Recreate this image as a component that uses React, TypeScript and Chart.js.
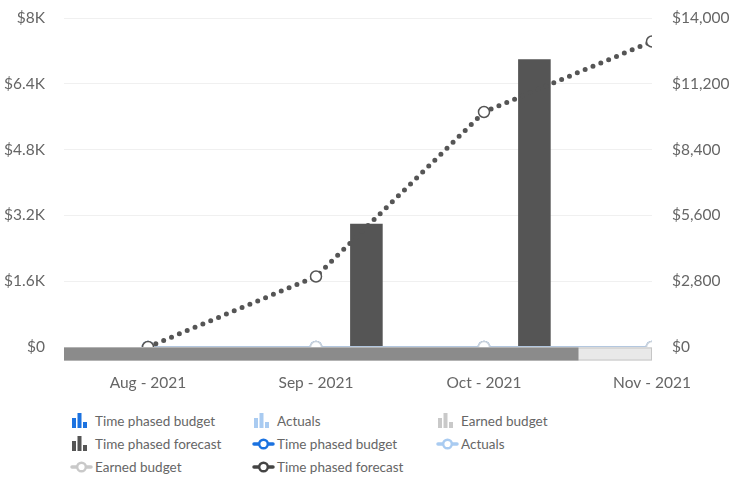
import React, { useEffect, useRef } from 'react';
import { Chart, registerables } from 'chart.js';

Chart.register(...registerables);

// ---- data ----
const categories = ['Aug - 2021', 'Sep - 2021', 'Oct - 2021', 'Nov - 2021'];
const budgetBars = [0, 0, 0, 0];
const actualBars = [0, 0, 0, 0];
const earnedBars = [0, 0, 0, 0];
const forecastBars = [0, 3000, 7000, 3000];
const budgetLine = [0, 0, 0, 0];
const actualLine = [0, 0, 0, 0];
const earnedLine = [0, 0, 0, 0];
const forecastLine = [0, 3000, 10000, 13000];
const leftTicks = [0, 1600, 3200, 4800, 6400, 8000];
const rightTicks = [0, 2800, 5600, 8400, 11200, 14000];
const scrollVisibleFraction = 0.875;

const FONT = 'Lato, "Open Sans", sans-serif';
const BLUE = '#1b72e0';
const LIGHT_BLUE = '#a9cbf1';
const LIGHT_GRAY = '#c9c9c9';
const DARK = '#555555';

const fmtLeft = (v: number) => (v === 0 ? '$0' : '$' + (v / 1000) + 'K');
const fmtRight = (v: number) => '$' + v.toLocaleString('en-US');
const xy = (arr: number[]) => arr.map((v, i) => ({ x: i, y: v }));

const scrollbarPlugin = {
  id: 'scrollbar',
  afterDatasetsDraw(chart: any) {
    const { ctx, chartArea } = chart;
    const top = chartArea.bottom + 0.5;
    const h = 13;
    const w = chartArea.right - chartArea.left;
    const thumbW = w * scrollVisibleFraction;
    ctx.save();
    ctx.fillStyle = '#e9e9e9';
    ctx.fillRect(chartArea.left, top, w, h);
    ctx.strokeStyle = '#c6c6c6';
    ctx.lineWidth = 1;
    ctx.strokeRect(chartArea.left + 0.5, top + 0.5, w - 1, h - 1);
    ctx.fillStyle = '#8b8b8b';
    ctx.fillRect(chartArea.left, top, thumbW, h);
    ctx.restore();
  },
};

const BarIcon = ({ color }: { color: string }) => (
  <svg width="16" height="15" style={{ display: 'block' }}>
    <rect x="0" y="5" width="4" height="10" fill={color} />
    <rect x="5.5" y="0" width="4" height="15" fill={color} />
    <rect x="11" y="9" width="4" height="6" fill={color} />
  </svg>
);

const LineIcon = ({ color }: { color: string }) => (
  <svg width="23" height="12" style={{ display: 'block' }}>
    <line x1="2" y1="6" x2="21" y2="6" stroke={color} strokeWidth="3.5" strokeLinecap="round" />
    <circle cx="11.5" cy="6" r="4.3" fill="#fff" stroke={color} strokeWidth="2.4" />
  </svg>
);

const legendItems: { label: string; kind: 'bar' | 'line'; color: string }[] = [
  { label: 'Time phased budget', kind: 'bar', color: BLUE },
  { label: 'Actuals', kind: 'bar', color: LIGHT_BLUE },
  { label: 'Earned budget', kind: 'bar', color: LIGHT_GRAY },
  { label: 'Time phased forecast', kind: 'bar', color: DARK },
  { label: 'Time phased budget', kind: 'line', color: BLUE },
  { label: 'Actuals', kind: 'line', color: LIGHT_BLUE },
  { label: 'Earned budget', kind: 'line', color: LIGHT_GRAY },
  { label: 'Time phased forecast', kind: 'line', color: '#444444' },
];

export default function App() {
  const ref = useRef<HTMLCanvasElement>(null);

  useEffect(() => {
    const tickFont = { family: FONT, size: 15.5 };
    const barCommon = {
      type: 'bar' as const,
      xAxisID: 'x',
      yAxisID: 'y',
      order: 10,
      barPercentage: 0.97,
      categoryPercentage: 0.8,
      clip: 0,
    };
    const lineCommon = {
      type: 'line' as const,
      xAxisID: 'x',
      yAxisID: 'y1',
      clip: 0,
      tension: 0,
      pointRadius: 5.5,
      pointHoverRadius: 5.5,
      pointBackgroundColor: '#ffffff',
      pointBorderWidth: 1.5,
      fill: false,
    };
    const chart = new Chart(ref.current!, {
      type: 'bar',
      data: {
        datasets: [
          { ...lineCommon, label: 'Time phased forecast', data: xy(forecastLine), borderColor: DARK, borderWidth: 5, borderDash: [0, 8.5], borderCapStyle: 'round', pointBorderColor: DARK, order: 0 },
          { ...lineCommon, label: 'Actuals', data: xy(actualLine), borderColor: '#b3c7df', borderWidth: 2, pointBorderColor: '#c9d2dc', order: 1 },
          { ...lineCommon, label: 'Earned budget', data: xy(earnedLine), borderColor: LIGHT_GRAY, borderWidth: 2, pointBorderColor: LIGHT_GRAY, order: 2 },
          { ...lineCommon, label: 'Time phased budget', data: xy(budgetLine), borderColor: BLUE, borderWidth: 2, pointBorderColor: BLUE, order: 3 },
          { ...barCommon, label: 'Time phased budget', data: xy(budgetBars), backgroundColor: BLUE },
          { ...barCommon, label: 'Actuals', data: xy(actualBars), backgroundColor: LIGHT_BLUE },
          { ...barCommon, label: 'Earned budget', data: xy(earnedBars), backgroundColor: LIGHT_GRAY },
          { ...barCommon, label: 'Time phased forecast', data: xy(forecastBars), backgroundColor: DARK },
        ] as any,
      },
      options: {
        responsive: false,
        animation: false,
        events: [],
        layout: { padding: { top: 18, left: 0, right: 0, bottom: 0 } },
        plugins: { legend: { display: false }, tooltip: { enabled: false } },
        scales: {
          x: {
            type: 'linear',
            min: -0.5,
            max: 3,
            offset: false,
            afterBuildTicks: (s: any) => {
              s.ticks = categories.map((_, i) => ({ value: i }));
            },
            afterFit: (s: any) => {
              s.height = 53;
            },
            ticks: {
              callback: (v: any) => categories[v] ?? '',
              padding: 27,
              font: tickFont,
              color: '#666666',
              maxRotation: 0,
              autoSkip: false,
            },
            grid: { display: false, drawTicks: false },
            border: { display: false },
          },
          y: {
            position: 'left',
            min: leftTicks[0],
            max: leftTicks[leftTicks.length - 1],
            afterBuildTicks: (s: any) => {
              s.ticks = leftTicks.map((v) => ({ value: v }));
            },
            afterFit: (s: any) => {
              s.width = 64;
              s.paddingTop = 0;
              s.paddingBottom = 0;
            },
            ticks: { callback: (v: any) => fmtLeft(v), padding: 19, font: tickFont, color: '#666666' },
            grid: { color: '#f0f0f0', drawTicks: false },
            border: { display: false },
          },
          y1: {
            position: 'right',
            min: rightTicks[0],
            max: rightTicks[rightTicks.length - 1],
            afterBuildTicks: (s: any) => {
              s.ticks = rightTicks.map((v) => ({ value: v }));
            },
            afterFit: (s: any) => {
              s.width = 79;
              s.paddingTop = 0;
              s.paddingBottom = 0;
            },
            ticks: { callback: (v: any) => fmtRight(v), padding: 20, font: tickFont, color: '#666666' },
            grid: { display: false, drawTicks: false },
            border: { display: false },
          },
        },
      } as any,
      plugins: [scrollbarPlugin],
    });
    return () => chart.destroy();
  }, []);

  return (
    <div style={{ position: 'absolute', left: 0, top: 0, width: 731, height: 479, background: '#fff', fontFamily: FONT }}>
      <canvas ref={ref} width={731} height={400} style={{ display: 'block', width: 731, height: 400 }} />
      <div
        style={{
          position: 'absolute',
          left: 70,
          top: 409,
          display: 'grid',
          gridTemplateColumns: '182px 184px 200px',
          gridAutoRows: '23px',
        }}
      >
        {legendItems.map((it, i) => (
          <div key={i} style={{ display: 'flex', alignItems: 'center', height: 23 }}>
            <div style={{ width: 25, display: 'flex', alignItems: 'center', paddingLeft: it.kind === 'bar' ? 2 : 0, boxSizing: 'border-box' }}>
              {it.kind === 'bar' ? <BarIcon color={it.color} /> : <LineIcon color={it.color} />}
            </div>
            <span style={{ fontSize: 13.5, color: '#666666', whiteSpace: 'nowrap' }}>{it.label}</span>
          </div>
        ))}
      </div>
    </div>
  );
}
